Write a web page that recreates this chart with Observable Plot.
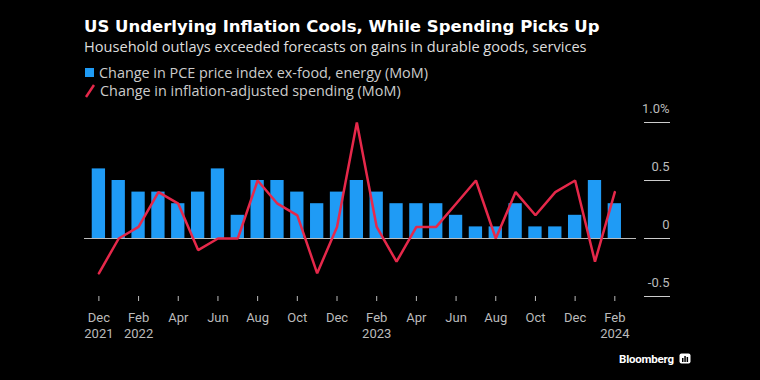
<!DOCTYPE html>
<html>
<head>
<meta charset="utf-8">
<script src="https://cdn.jsdelivr.net/npm/d3@7"></script>
<script src="https://cdn.jsdelivr.net/npm/@observablehq/plot@0.6"></script>
<style>
  html, body { margin: 0; padding: 0; background: #000; }
  body { width: 760px; height: 380px; overflow: hidden; position: relative; font-family: Roboto, "Noto Sans", sans-serif; }
  .abs { position: absolute; white-space: nowrap; }
  #title { left: 84px; top: 17px; color: #fff; font-weight: bold; font-size: 16.5px; font-family: "DejaVu Sans", sans-serif; }
  #subtitle { left: 84px; top: 36px; color: #ddd; font-size: 14.6px; font-family: "Open Sans", sans-serif; }
  .leg { left: 85px; color: #ccc; font-size: 14.4px; font-family: "Open Sans", sans-serif; display: flex; align-items: center; }
  #leg1 { top: 63px; }
  #leg2 { top: 81px; }
  .sw { display: inline-block; width: 9px; height: 9px; margin-right: 5px; }
  #chart { left: 0; top: 100px; }
  #logo { left: 619px; top: 352px; color: #fff; font-weight: bold; font-size: 11.5px; letter-spacing: -0.2px; display: flex; align-items: center; }
</style>
</head>
<body>
<div id="title" class="abs">US Underlying Inflation Cools, While Spending Picks Up</div>
<div id="subtitle" class="abs">Household outlays exceeded forecasts on gains in durable goods, services</div>
<div id="leg1" class="abs leg"><span class="sw" style="background:#1f9bf5"></span>Change in PCE price index ex-food, energy (MoM)</div>
<div id="leg2" class="abs leg"><svg width="10" height="14" style="margin-right:5px"><line x1="1" y1="13" x2="9" y2="1" stroke="#e6284a" stroke-width="2.5"/></svg>Change in inflation-adjusted spending (MoM)</div>
<div id="chart" class="abs"></div>
<div id="logo" class="abs">Bloomberg<svg width="12" height="12" style="margin-left:5px"><rect x="0.5" y="0.5" width="11" height="10" rx="2" fill="#fff"/><rect x="3" y="5" width="1.5" height="4" fill="#000"/><rect x="5.3" y="3" width="1.5" height="6" fill="#000"/><rect x="7.6" y="4" width="1.5" height="5" fill="#000"/></svg></div>
<script>
const months = ["2021-12","2022-01","2022-02","2022-03","2022-04","2022-05","2022-06","2022-07","2022-08","2022-09","2022-10","2022-11","2022-12",
  "2023-01","2023-02","2023-03","2023-04","2023-05","2023-06","2023-07","2023-08","2023-09","2023-10","2023-11","2023-12","2024-01","2024-02"];
const corePce = [0.6,0.5,0.4,0.4,0.3,0.4,0.6,0.2,0.5,0.5,0.4,0.3,0.4,0.5,0.4,0.3,0.3,0.3,0.2,0.1,0.1,0.3,0.1,0.1,0.2,0.5,0.3];
const realSpending = [-0.3,0.0,0.1,0.4,0.3,-0.1,0.0,0.0,0.5,0.3,0.2,-0.3,0.1,1.0,0.1,-0.2,0.1,0.1,0.3,0.5,0.0,0.4,0.2,0.4,0.5,-0.2,0.4];
const tickMonths = ["2021-12","2022-02","2022-04","2022-06","2022-08","2022-10","2022-12","2023-02","2023-04","2023-06","2023-08","2023-10","2023-12","2024-02"];
const tickLabels = ["Dec\n2021","Feb\n2022","Apr","Jun","Aug","Oct","Dec","Feb\n2023","Apr","Jun","Aug","Oct","Dec","Feb\n2024"];
const yTicks = [-0.5, 0, 0.5, 1.0];
const yTickLabels = ["-0.5", "0", "0.5", "1.0%"];

const data = months.map((m, i) => ({month: m, core: corePce[i], spend: realSpending[i]}));
const xLabel = new Map(tickMonths.map((m, i) => [m, tickLabels[i]]));
const yLabel = new Map(yTicks.map((v, i) => [v, yTickLabels[i]]));

const chart = Plot.plot({
  width: 760,
  height: 245,
  marginLeft: 84,
  marginRight: 117,
  marginTop: 22,
  marginBottom: 49,
  style: {background: "transparent", fontFamily: "Roboto, 'Noto Sans', sans-serif"},
  x: {type: "band", domain: months, paddingInner: 0.33, paddingOuter: 0.75, align: 0.26, round: false},
  y: {domain: [-0.5, 1.0]},
  marks: [
    Plot.barY(data, {x: "month", y: "core", fill: "#1f9bf5"}),
    Plot.ruleY([0], {stroke: "#bbb", strokeWidth: 1, insetRight: 7}),
    Plot.line(data, {x: "month", y: "spend", stroke: "#e6284a", strokeWidth: 2.5, strokeLinejoin: "miter"}),
    Plot.axisX({ticks: tickMonths, tickSize: 5, tickPadding: 8, tickFormat: d => xLabel.get(d), fontSize: 13, lineHeight: 1.3, color: "#bbb", label: null}),
    Plot.axisY({anchor: "right", ticks: yTicks, tickSize: 26, tickFormat: () => "", color: "#ccc", label: null}),
    Plot.axisY({anchor: "right", ticks: yTicks, tickSize: 0, tickPadding: 26, textAnchor: "end", dy: -14, tickFormat: d => yLabel.get(d), fontSize: 13, color: "#bbb", label: null})
  ]
});
document.getElementById("chart").appendChild(chart);
</script>
</body>
</html>
